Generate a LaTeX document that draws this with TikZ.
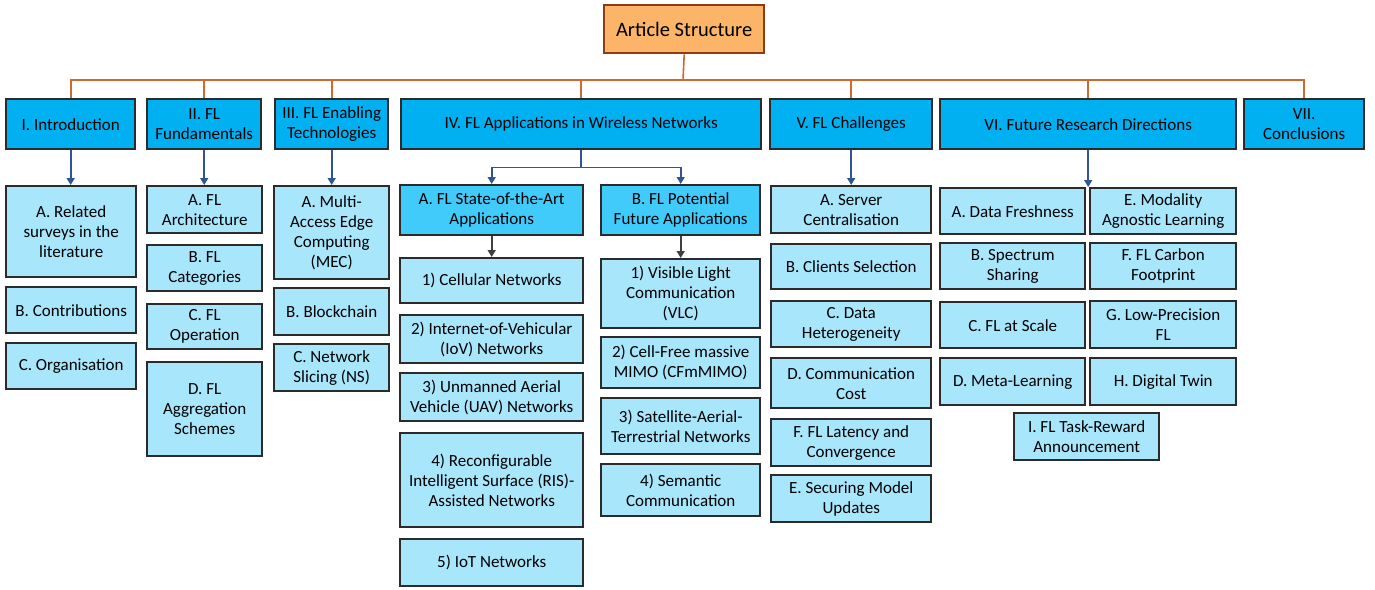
\documentclass[tikz,border=0pt]{standalone}
\usepackage{fontspec}
\setmainfont{Carlito}
\usetikzlibrary{arrows.meta}

\definecolor{secblue}{HTML}{00B0F0}
\definecolor{subblue}{HTML}{A8E6FB}
\definecolor{midblue}{HTML}{40CBFB}
\definecolor{edgegray}{HTML}{2B2B2B}
\definecolor{busorange}{HTML}{CD6A2C}
\definecolor{toporange}{HTML}{FBB468}
\definecolor{topedge}{HTML}{8B3E12}
\definecolor{arrblue}{HTML}{2F5597}

\begin{document}
\begin{tikzpicture}[
        x=1pt, y=-1pt,
        box/.style={rectangle, draw=edgegray, line width=2.4pt, anchor=north west,
                    align=center, inner sep=1pt, font=\fontsize{17}{20}\selectfont},
        sec/.style={box, fill=secblue},
        sub/.style={box, fill=subblue},
        mid/.style={box, fill=midblue},
        bus/.style={draw=busorange, line width=1.6pt},
        arrow/.style={-{Triangle[length=7pt,width=8pt]}, draw=arrblue, line width=1.6pt},
        garrow/.style={arrow, draw=black!75},
    ]
    \useasboundingbox (0,0) rectangle (1375,589);

    % root
    \node[box, draw=topedge, fill=toporange, minimum width=160pt, minimum height=48pt,
          font=\fontsize{20.5}{24}\selectfont] (root) at (603,4) {Article Structure};

    % sections
    \node[sec, minimum width=129pt, minimum height=50pt] (s1) at (5,98) {I. Introduction};
    \node[sec, minimum width=114pt, minimum height=50pt] (s2) at (146,98) {II. FL\\Fundamentals};
    \node[sec, minimum width=113pt, minimum height=50pt] (s3) at (274,98) {III. FL Enabling\\Technologies};
    \node[sec, minimum width=360pt, minimum height=50pt] (s4) at (400,98) {IV. FL Applications in Wireless Networks};
    \node[sec, minimum width=162pt, minimum height=50pt] (s5) at (769,98) {V. FL Challenges};
    \node[sec, minimum width=296pt, minimum height=50pt] (s6) at (939,98) {VI. Future Research Directions};
    \node[sec, minimum width=120pt, minimum height=50pt] (s7) at (1243,98) {VII.\\Conclusions};

    % bus
    \coordinate (bus) at (683,80);
    \draw[bus] (root.south) -- (bus);
    \foreach \s in {s1,s2,s3,s4,s5,s6,s7}
        \draw[bus] (bus) -| (\s.north);

    % I
    \node[sub, minimum width=130pt, minimum height=91pt] (i1) at (5,185) {A. Related\\surveys in the\\literature};
    \node[sub, minimum width=130pt, minimum height=46pt] (i2) at (5,286) {B. Contributions};
    \node[sub, minimum width=130pt, minimum height=46pt] (i3) at (5,342) {C. Organisation};

    % II
    \node[sub, minimum width=115pt, minimum height=47pt] (ii1) at (146,185) {A. FL\\Architecture};
    \node[sub, minimum width=115pt, minimum height=46pt] (ii2) at (146,244) {B. FL\\Categories};
    \node[sub, minimum width=115pt, minimum height=45pt] (ii3) at (146,303) {C. FL\\Operation};
    \node[sub, minimum width=115pt, minimum height=94pt] (ii4) at (146,361) {D. FL\\Aggregation\\Schemes};

    % III
    \node[sub, minimum width=115pt, minimum height=93pt] (iii1) at (273,185) {A. Multi-\\Access Edge\\Computing\\(MEC)};
    \node[sub, minimum width=115pt, minimum height=47pt] (iii2) at (273,287) {B. Blockchain};
    \node[sub, minimum width=115pt, minimum height=47pt] (iii3) at (273,343) {C. Network\\Slicing (NS)};

    % IV
    \node[mid, minimum width=183pt, minimum height=50pt] (iva) at (399,184) {A. FL State-of-the-Art\\Applications};
    \node[mid, minimum width=159pt, minimum height=50pt] (ivb) at (600,184) {B. FL Potential\\Future Applications};
    \node[sub, minimum width=183pt, minimum height=45pt] (iva1) at (399,257) {1) Cellular Networks};
    \node[sub, minimum width=183pt, minimum height=48pt] (iva2) at (399,314) {2) Internet-of-Vehicular\\(IoV) Networks};
    \node[sub, minimum width=183pt, minimum height=48pt] (iva3) at (399,372) {3) Unmanned Aerial\\Vehicle (UAV) Networks};
    \node[sub, minimum width=183pt, minimum height=94pt] (iva4) at (399,432) {4) Reconfigurable\\Intelligent Surface (RIS)-\\Assisted Networks};
    \node[sub, minimum width=183pt, minimum height=47pt] (iva5) at (399,538) {5) IoT Networks};
    \node[sub, minimum width=159pt, minimum height=69pt] (ivb1) at (600,258) {1) Visible Light\\Communication\\(VLC)};
    \node[sub, minimum width=159pt, minimum height=51pt] (ivb2) at (600,336) {2) Cell-Free massive\\MIMO (CFmMIMO)};
    \node[sub, minimum width=159pt, minimum height=56pt] (ivb3) at (600,397) {3) Satellite-Aerial-\\Terrestrial Networks};
    \node[sub, minimum width=159pt, minimum height=52pt] (ivb4) at (600,463) {4) Semantic\\Communication};

    % V
    \node[sub, minimum width=160pt, minimum height=47pt] (v1) at (770,185) {A. Server\\Centralisation};
    \node[sub, minimum width=160pt, minimum height=45pt] (v2) at (770,243) {B. Clients Selection};
    \node[sub, minimum width=160pt, minimum height=46pt] (v3) at (770,300) {C. Data\\Heterogeneity};
    \node[sub, minimum width=160pt, minimum height=50pt] (v4) at (770,357) {D. Communication\\Cost};
    \node[sub, minimum width=160pt, minimum height=47pt] (v5) at (770,418) {F. FL Latency and\\Convergence};
    \node[sub, minimum width=160pt, minimum height=47pt] (v6) at (770,474) {E. Securing Model\\Updates};

    % VI
    \node[sub, minimum width=145pt, minimum height=46pt] (vi1) at (939,187) {A. Data Freshness};
    \node[sub, minimum width=145pt, minimum height=46pt] (vi2) at (939,242) {B. Spectrum\\Sharing};
    \node[sub, minimum width=145pt, minimum height=46pt] (vi3) at (939,301) {C. FL at Scale};
    \node[sub, minimum width=145pt, minimum height=47pt] (vi4) at (939,357) {D. Meta-Learning};
    \node[sub, minimum width=146pt, minimum height=46pt] (vi5) at (1089,187) {E. Modality\\Agnostic Learning};
    \node[sub, minimum width=146pt, minimum height=46pt] (vi6) at (1089,242) {F. FL Carbon\\Footprint};
    \node[sub, minimum width=146pt, minimum height=47pt] (vi7) at (1089,300) {G. Low-Precision\\FL};
    \node[sub, minimum width=146pt, minimum height=47pt] (vi8) at (1089,357) {H. Digital Twin};
    \node[sub, minimum width=145pt, minimum height=47pt] (vi9) at (1013,412) {I. FL Task-Reward\\Announcement};

    % arrows
    \draw[arrow] (s1.south) -- (s1.south |- i1.north);
    \draw[arrow] (s2.south) -- (s2.south |- ii1.north);
    \draw[arrow] (s3.south) -- (s3.south |- iii1.north);
    \draw[arrow] (s5.south) -- (s5.south |- v1.north);
    \draw[arrow] (s6.south) -- (s6.south |- vi1.north);
    \path (s4.south) ++(0,17) coordinate (split);
    \draw[arrow] (s4.south) -- (split) -| (iva.north);
    \draw[arrow] (s4.south) -- (split) -| (ivb.north);
    \draw[garrow] (iva.south) -- (iva1.north);
    \draw[garrow] (ivb.south) -- (ivb1.north);

\end{tikzpicture}
\end{document}
